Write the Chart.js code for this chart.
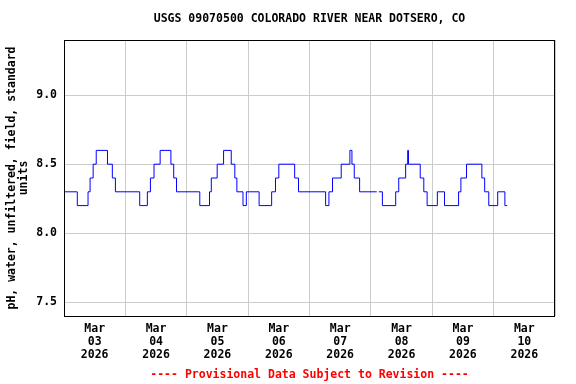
<!DOCTYPE html>
<html>
<head>
<meta charset="utf-8">
<script src="https://cdn.jsdelivr.net/npm/chart.js@4"></script>
<style>
  html, body { margin: 0; padding: 0; background: #fff; }
</style>
</head>
<body>
<canvas id="chart" width="576" height="384"></canvas>
<script>
// Hours since Mar 03 2026 00:00 where the reading changes, and the pH from then on
const hours = [
  0, 5.2, 9.4, 10.2, 11.4, 12.6, 17.0, 18.9, 20.1,
  29.6, 32.6, 33.8, 35.2, 37.6, 41.8, 42.9, 44.0,
  53.1, 56.9, 57.6, 59.9, 62.4, 65.4, 66.8, 67.6, 70.0, 71.3,
  76.3, 81.2, 82.7, 84.0, 90.2, 91.7,
  102.3, 103.6, 105.0, 108.4, 111.8, 112.6, 113.5, 115.6,
  122.3, 122.4, 123.1, 124.5, 129.7, 130.9, 133.6, 134.4, 134.7, 139.3, 140.7, 142.0,
  146.0, 148.8, 154.3, 155.2, 157.4, 163.4, 164.5, 166.1, 169.6, 172.4, 173.3
]
const ph = [
  8.3, 8.2, 8.3, 8.4, 8.5, 8.6, 8.5, 8.4, 8.3,
  8.2, 8.3, 8.4, 8.5, 8.6, 8.5, 8.4, 8.3,
  8.2, 8.3, 8.4, 8.5, 8.6, 8.5, 8.4, 8.3, 8.2, 8.3,
  8.2, 8.3, 8.4, 8.5, 8.4, 8.3,
  8.2, 8.3, 8.4, 8.5, 8.6, 8.5, 8.4, 8.3,
  8.3, null, 8.3, 8.2, 8.3, 8.4, 8.5, 8.6, 8.5, 8.4, 8.3, 8.2,
  8.3, 8.2, 8.3, 8.4, 8.5, 8.4, 8.3, 8.2, 8.3, 8.2, 8.2
]
const dayLabels = ['03', '04', '05', '06', '07', '08', '09', '10']
const yTicks = [7.5, 8.0, 8.5, 9.0]

const FONT = 'DejaVu Sans Mono'
const font = (size, extra) => Object.assign({ family: FONT, size: size, weight: 'bold' }, extra || {})

// black box round the plot area
const frame = {
  id: 'frame',
  afterDatasetsDraw(chart) {
    const a = chart.chartArea
    const ctx = chart.ctx
    ctx.save()
    ctx.strokeStyle = '#000'
    ctx.lineWidth = 1
    ctx.strokeRect(Math.round(a.left) + 0.5, Math.round(a.top) + 0.5,
      Math.round(a.right - a.left) - 1, Math.round(a.bottom - a.top))
    ctx.restore()
  }
}

new Chart(document.getElementById('chart'), {
  type: 'line',
  data: {
    datasets: [{
      data: hours.map((h, i) => ({ x: h, y: ph[i] })),
      borderColor: '#0000ff',
      borderWidth: 1,
      pointRadius: 0,
      stepped: true,
      spanGaps: false,
      fill: false
    }]
  },
  options: {
    responsive: false,
    animation: false,
    layout: { padding: { left: 0, right: 21, top: 0, bottom: 0 } },
    plugins: { legend: { display: false }, tooltip: { enabled: false } },
    scales: {
      x: {
        type: 'linear',
        position: 'bottom',
        min: 0, max: 192,
        afterBuildTicks(s) {
          const t = []
          for (let v = 0; v <= 192; v += 12) t.push({ value: v })
          s.ticks = t
        },
        afterFit(s) { s.height = 68 },
        grid: {
          drawTicks: false,
          color: c => (c.tick && c.tick.value % 24 === 0) ? '#cccccc' : 'rgba(0,0,0,0)'
        },
        border: { display: false },
        ticks: {
          autoSkip: false,
          maxRotation: 0,
          padding: 6.5,
          color: '#000',
          font: font(11.5, { lineHeight: '13px' }),
          callback: v => (v % 24 === 12) ? ['Mar', dayLabels[(v - 12) / 24], '2026'] : ''
        },
        title: {
          display: true,
          text: '---- Provisional Data Subject to Revision ----',
          color: '#ff0000',
          font: font(11.5),
          padding: { top: 0, bottom: 2 }
        }
      },
      top: {
        type: 'linear',
        position: 'top',
        min: 0, max: 192,
        afterFit(s) { s.height = 40 },
        grid: { display: false, drawTicks: false },
        border: { display: false },
        ticks: { display: false },
        title: {
          display: true,
          text: 'USGS 09070500 COLORADO RIVER NEAR DOTSERO, CO',
          color: '#000',
          font: font(11.5),
          padding: { top: 12, bottom: 0 }
        }
      },
      y: {
        min: 7.4, max: 9.4,
        afterBuildTicks(s) { s.ticks = yTicks.map(v => ({ value: v })) },
        afterFit(s) { s.width = 64 },
        grid: { drawTicks: false, color: '#cccccc' },
        border: { display: false },
        ticks: {
          padding: 7,
          color: '#000',
          font: font(11.5),
          callback: v => Number(v).toFixed(1)
        },
        title: {
          display: true,
          text: ['pH, water, unfiltered, field, standard', 'units'],
          color: '#000',
          font: font(11.5, { lineHeight: '12px' }),
          padding: { top: 6, bottom: 0 }
        }
      }
    }
  },
  plugins: [frame]
})
</script>
</body>
</html>
